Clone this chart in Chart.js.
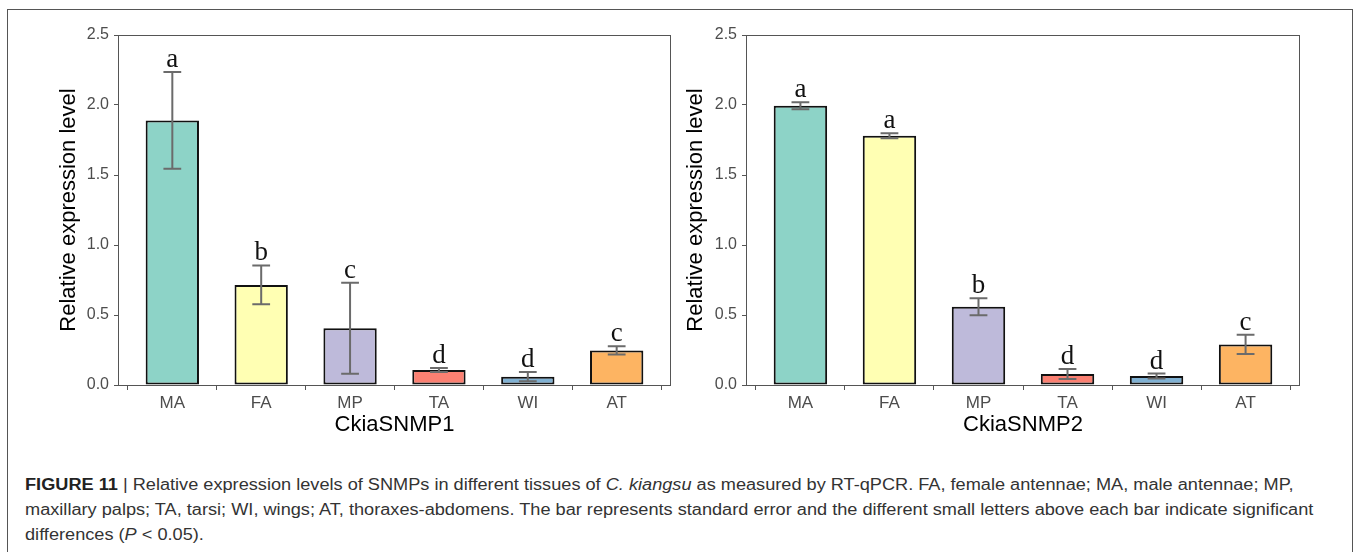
<!DOCTYPE html>
<html>
<head>
<meta charset="utf-8">
<script src="https://cdn.jsdelivr.net/npm/chart.js@4.4.0/dist/chart.umd.min.js"></script>
<style>
  body { margin: 0; background: #fff; width: 1358px; height: 552px; overflow: hidden; position: relative;
         font-family: "Liberation Sans", Arial, sans-serif; }
  #frame { position: absolute; left: 7px; top: 9px; width: 1344px; height: 600px; border: 1px solid #555; }
  #c1 { position: absolute; left: 0; top: 0; }
  #c2 { position: absolute; left: 680px; top: 0; }
  #caption { position: absolute; left: 25px; top: 472px; font-size: 16px; line-height: 25px; color: #333;
             white-space: nowrap; transform-origin: 0 0; transform: scaleX(1.135); }
  #caption b { color: #222; }
</style>
</head>
<body>
<div id="frame"></div>
<canvas id="c1" width="680" height="440"></canvas>
<canvas id="c2" width="680" height="440"></canvas>
<div id="caption">
  <b>FIGURE 11</b> | Relative expression levels of SNMPs in different tissues of <i>C. kiangsu</i> as measured by RT-qPCR. FA, female antennae; MA, male antennae; MP,<br>
  maxillary palps; TA, tarsi; WI, wings; AT, thoraxes-abdomens. The bar represents standard error and the different small letters above each bar indicate significant<br>
  differences (<i>P</i> &lt; 0.05).
</div>

<script>
// tissues
var categories = ['MA', 'FA', 'MP', 'TA', 'WI', 'AT'];

// CkiaSNMP1
var snmp1Mean = [1.89, 0.715, 0.405, 0.107, 0.059, 0.247];
var snmp1Se = [0.345, 0.139, 0.325, 0.015, 0.033, 0.03];
var snmp1Letters = ['a', 'b', 'c', 'd', 'd', 'c'];

// CkiaSNMP2
var snmp2Mean = [1.995, 1.781, 0.559, 0.079, 0.064, 0.29];
var snmp2Se = [0.025, 0.018, 0.06, 0.036, 0.018, 0.069];
var snmp2Letters = ['a', 'a', 'b', 'd', 'd', 'c'];

var yTicks = [0, 0.5, 1.0, 1.5, 2.0, 2.5];

var barColors = ['#8DD3C7', '#FFFFB3', '#BEBADA', '#FB8072', '#80B1D3', '#FDB462'];
var sans = '"Liberation Sans", Arial, sans-serif';

function drawPanel(id, means, ses, letters, title, axisWidth, titlePad, rightPad) {
    var extras = {
        id: 'extras',
        afterDatasetsDraw: function(chart) {
            var c = chart.ctx, x = chart.scales.x, y = chart.scales.y;
            c.save();
            c.strokeStyle = '#6b6b6b';
            c.lineWidth = 2;
            means.forEach(function(m, i) {
                var px = x.getPixelForValue(i);
                var half = x.getPixelForValue(i + 0.1) - px;
                var top = y.getPixelForValue(m + ses[i]);
                var bot = y.getPixelForValue(m - ses[i]);
                c.beginPath();
                c.moveTo(px, top); c.lineTo(px, bot);
                c.moveTo(px - half, top); c.lineTo(px + half, top);
                c.moveTo(px - half, bot); c.lineTo(px + half, bot);
                c.stroke();
                c.fillStyle = '#111';
                c.font = '27px "Liberation Serif", "Times New Roman", serif';
                c.textAlign = 'center';
                c.textBaseline = 'alphabetic';
                c.fillText(letters[i], px, top - 5);
            });
            c.restore();
        },
        afterDraw: function(chart) {
            var c = chart.ctx, a = chart.chartArea;
            c.save();
            c.strokeStyle = '#555';
            c.lineWidth = 1;
            c.strokeRect(Math.round(a.left) - 0.5, Math.round(a.top) + 0.5,
                         Math.round(a.right - a.left) + 1, Math.round(a.bottom - a.top));
            c.restore();
        }
    };

    new Chart(document.getElementById(id), {
        type: 'bar',
        data: {
            datasets: [{
                data: means.map(function(v, i) { return {x: i, y: v}; }),
                backgroundColor: barColors,
                borderColor: '#111',
                borderWidth: 2,
                borderSkipped: false,
                categoryPercentage: 1,
                barPercentage: 0.6
            }]
        },
        options: {
            responsive: false,
            animation: false,
            layout: { padding: { top: 35, right: rightPad, left: 0, bottom: 0 } },
            plugins: { legend: { display: false }, tooltip: { enabled: false } },
            scales: {
                x: {
                    type: 'linear',
                    min: -0.6,
                    max: 5.6,
                    offset: false,
                    afterBuildTicks: function(s) { s.ticks = categories.map(function(c, i) { return {value: i}; }); },
                    afterFit: function(s) { s.height = 55; },
                    ticks: {
                        callback: function(v) { return categories[v]; },
                        color: '#4d4d4d', font: { size: 17, family: sans },
                        padding: 3, autoSkip: false, maxRotation: 0
                    },
                    grid: { drawOnChartArea: false, tickLength: 5, tickColor: '#555', lineWidth: 1 },
                    border: { display: false },
                    title: { display: true, text: title, color: '#000', font: { size: 22, family: sans },
                             padding: { top: 0, bottom: 1.5 } }
                },
                y: {
                    min: 0,
                    max: 2.5,
                    afterBuildTicks: function(s) { s.ticks = yTicks.map(function(v) { return {value: v}; }); },
                    afterFit: function(s) { s.width = axisWidth; },
                    ticks: {
                        callback: function(v) { return v.toFixed(1); },
                        color: '#4d4d4d', font: { size: 16, family: sans }, padding: 5
                    },
                    grid: { drawOnChartArea: false, tickLength: 5, tickColor: '#555', lineWidth: 1 },
                    border: { display: false },
                    title: { display: true, text: 'Relative expression level', color: '#000',
                             font: { size: 22, family: sans }, padding: { top: titlePad, bottom: 0 } }
                }
            }
        },
        plugins: [extras]
    });
}

drawPanel('c1', snmp1Mean, snmp1Se, snmp1Letters, 'CkiaSNMP1', 119, 55.5, 10);
drawPanel('c2', snmp2Mean, snmp2Se, snmp2Letters, 'CkiaSNMP2', 67, 3.2, 61);
</script>
</body>
</html>
